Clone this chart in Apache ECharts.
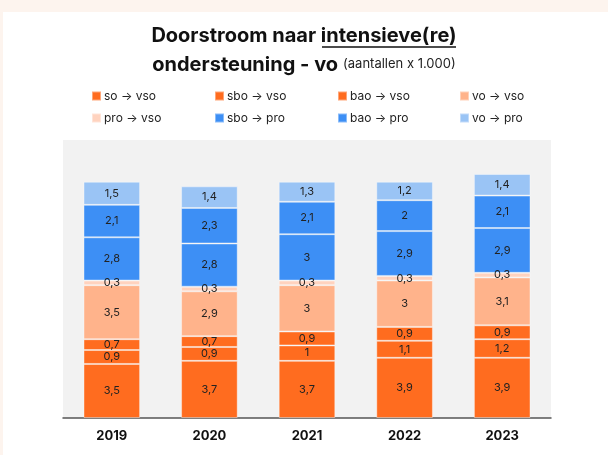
<!DOCTYPE html>
<html>
<head>
<meta charset="utf-8">
<script src="https://cdn.jsdelivr.net/npm/echarts@6/dist/echarts.min.js"></script>
<style>
	body { margin: 0; background: #fdf4ee; }
	#card { position: absolute; left: 3px; top: 12px; right: 0; bottom: 0; background: #fff; }
	#main { position: absolute; left: 0; top: 0; width: 608px; height: 455px; }
</style>
</head>
<body>
<div id="card"></div>
<div id="main"></div>
<script>
var years = ['2019', '2020', '2021', '2022', '2023'];
var soVso = [3.5, 3.7, 3.7, 3.9, 3.9];
var sboVso = [0.9, 0.9, 1, 1.1, 1.2];
var baoVso = [0.7, 0.7, 0.9, 0.9, 0.9];
var voVso = [3.5, 2.9, 3, 3, 3.1];
var proVso = [0.3, 0.3, 0.3, 0.3, 0.3];
var sboPro = [2.8, 2.8, 3, 2.9, 2.9];
var baoPro = [2.1, 2.3, 2.1, 2, 2.1];
var voPro = [1.5, 1.4, 1.3, 1.2, 1.4];

var names = ['so → vso', 'sbo → vso', 'bao → vso', 'vo → vso', 'pro → vso', 'sbo → pro', 'bao → pro', 'vo → pro'];
var values = [soVso, sboVso, baoVso, voVso, proVso, sboPro, baoPro, voPro];
var colors = ['#ff6c1f', '#ff6c1f', '#ff6c1f', '#ffb38b', '#ffd3bf', '#3d8ff5', '#3d8ff5', '#9ac4f5'];

var font = 'Inter, "Noto Sans", sans-serif';
var myChart = echarts.init(document.getElementById('main'));

var series = [];
for (var i = 0; i < names.length; i++) {
	series.push({
		name: names[i],
		type: 'bar',
		stack: 'total',
		barWidth: '58%',
		data: values[i],
		itemStyle: {
			color: colors[i],
			borderColor: 'rgba(255,255,255,0.4)',
			borderWidth: 1
		},
		label: {
			show: true,
			position: 'inside',
			color: '#222',
			fontSize: 11,
			fontFamily: font,
			formatter: function(p) {
				return String(p.value).replace('.', ',');
			}
		}
	});
}

// one legend per item so the columns line up like in the original
var legends = [];
var colX = [86, 209, 332, 454];
for (var k = 0; k < names.length; k++) {
	legends.push({
		data: [names[k]],
		left: colX[k % 4],
		top: 85 + Math.floor(k / 4) * 22,
		itemWidth: 9,
		itemHeight: 9,
		itemGap: 5,
		icon: 'rect',
		textStyle: { fontSize: 12, color: '#222', fontFamily: font, padding: [0, 0, 0, -2] },
		selectedMode: false
	});
}

var option = {
	title: {
		text: '{b|Doorstroom naar intensieve(re)}\n{b|ondersteuning - vo} {s|(aantallen x 1.000)}',
		left: 'center',
		top: 16,
		textStyle: {
			rich: {
				b: { fontSize: 20, fontWeight: 'bold', color: '#111', fontFamily: font, lineHeight: 29 },
				s: { fontSize: 13, fontWeight: 'normal', color: '#222', fontFamily: font, lineHeight: 29 }
			}
		}
	},
	graphic: [{
		type: 'line',
		shape: { x1: 322, y1: 47, x2: 456, y2: 47 },
		style: { stroke: '#111', lineWidth: 1.5 }
	}],
	legend: legends,
	grid: {
		left: 63,
		right: 57,
		top: 140,
		bottom: 37,
		show: true,
		backgroundColor: '#f2f2f2',
		borderWidth: 0
	},
	xAxis: {
		type: 'category',
		data: years,
		axisTick: { show: false },
		axisLine: { lineStyle: { color: '#555', width: 1.5 } },
		axisLabel: { fontSize: 13, fontWeight: 'bold', color: '#111', fontFamily: font, margin: 12 }
	},
	yAxis: {
		type: 'value',
		min: 0,
		max: 18,
		show: false,
		splitLine: { show: false }
	},
	series: series
};
myChart.setOption(option);
</script>
</body>
</html>
